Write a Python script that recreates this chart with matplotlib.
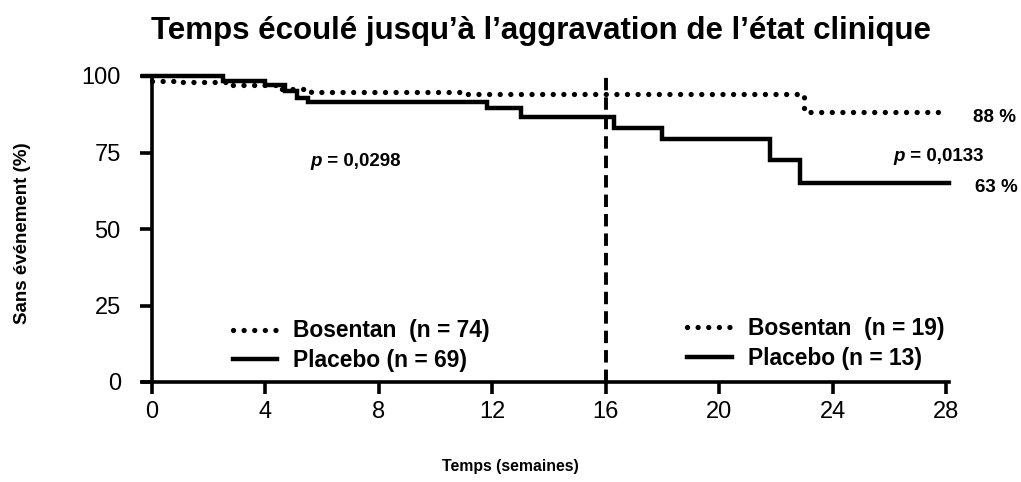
import matplotlib

matplotlib.use("Agg")
import matplotlib.pyplot as plt
from matplotlib.lines import Line2D

plt.rcParams["font.family"] = ["Liberation Sans", "DejaVu Sans"]

# Kaplan-Meier step curves (weeks, % event-free)
bosentan_weeks = [0, 1.0, 2.7, 4.4, 5.6, 11.1, 23.0, 27.8]
bosentan_pct = [98.5, 98.0, 97.0, 95.6, 94.9, 94.0, 88.1, 88.1]
placebo_weeks = [-0.3, 2.5, 4.0, 4.7, 5.1, 5.5, 11.8, 13.0, 16.3, 18.0, 21.8, 22.85, 28.1]
placebo_pct = [100, 98.5, 97.2, 95.0, 92.9, 91.4, 89.4, 86.7, 83.0, 79.3, 72.5, 65.1, 65.1]

x_ticks = [0, 4, 8, 12, 16, 20, 24, 28]
y_ticks = [0, 25, 50, 75, 100]
cutoff_week = 16

TITLE = "Temps écoulé jusqu’à l’aggravation de l’état clinique"
labels_early = ["Bosentan  (n = 74)", "Placebo (n = 69)"]
labels_late = ["Bosentan  (n = 19)", "Placebo (n = 13)"]

fig = plt.figure(figsize=(10.21, 4.82), dpi=100)
ax = fig.add_axes([152 / 1021, 100 / 482, 794 / 1021, 306 / 482])

dotted = dict(color="black", lw=3.8, linestyle=(0, (0.01, 2.0)), dash_capstyle="round", solid_capstyle="round")
solid = dict(color="black", lw=3.2, solid_joinstyle="miter")

ax.step(bosentan_weeks, bosentan_pct, where="post", clip_on=False, **dotted)
ax.step(placebo_weeks, placebo_pct, where="post", clip_on=False, **solid)
ax.plot([cutoff_week, cutoff_week], [0, 100.5], color="black", lw=2.8, linestyle=(0, (3.2, 1.8)), clip_on=False)

ax.set_xlim(0, 28)
ax.set_ylim(0, 100)
for side in ["top", "right"]:
    ax.spines[side].set_visible(False)
for side in ["left", "bottom"]:
    ax.spines[side].set_linewidth(2.6)
ax.spines["bottom"].set_bounds(-0.3, 28.1)
ax.set_xticks(x_ticks)
ax.set_yticks(y_ticks)
ax.tick_params(axis="both", width=2.6, length=8.5, labelsize=17, direction="out")
ax.tick_params(axis="y", pad=14)
ax.tick_params(axis="x", pad=5)

fig.text(0.53, 0.936, TITLE, ha="center", va="center", fontsize=22.5, fontweight="bold")
fig.text(0.022, 0.516, "Sans événement (%)", rotation=90, ha="center", va="center", fontsize=13.5, fontweight="bold")
fig.text(0.5, 0.032, "Temps (semaines)", ha="center", va="center", fontsize=11.4, fontweight="bold")


def p_value(x_px, y_px, value):
    t = fig.text(x_px / 1021, 1 - y_px / 482, "p", ha="left", va="baseline",
                 fontsize=13.5, fontweight="bold", fontstyle="italic")
    ax.annotate(f" = {value}", xy=(1, 0), xycoords=t, ha="left", va="bottom",
                fontsize=13.5, fontweight="bold", annotation_clip=False)


p_value(310, 166, "0,0298")
p_value(893, 161, "0,0133")
fig.text(973 / 1021, 1 - 118 / 482, "88 %", ha="left", va="center", fontsize=13.5, fontweight="bold")
fig.text(975 / 1021, 1 - 188 / 482, "63 %", ha="left", va="center", fontsize=13.5, fontweight="bold")

handles = [Line2D([], [], **dotted), Line2D([], [], **solid)]
legend_style = dict(loc="center left", frameon=False, borderpad=0, borderaxespad=0,
                    handlelength=1.95, handletextpad=0.7, labelspacing=0.3,
                    prop=dict(size=16.4, weight="bold"))
leg1 = ax.legend(handles, labels_early, bbox_to_anchor=(0.102, 0.118), **legend_style)
ax.add_artist(leg1)
ax.legend(handles, labels_late, bbox_to_anchor=(0.674, 0.125), **legend_style)

fig.savefig("out.png", dpi=100)
